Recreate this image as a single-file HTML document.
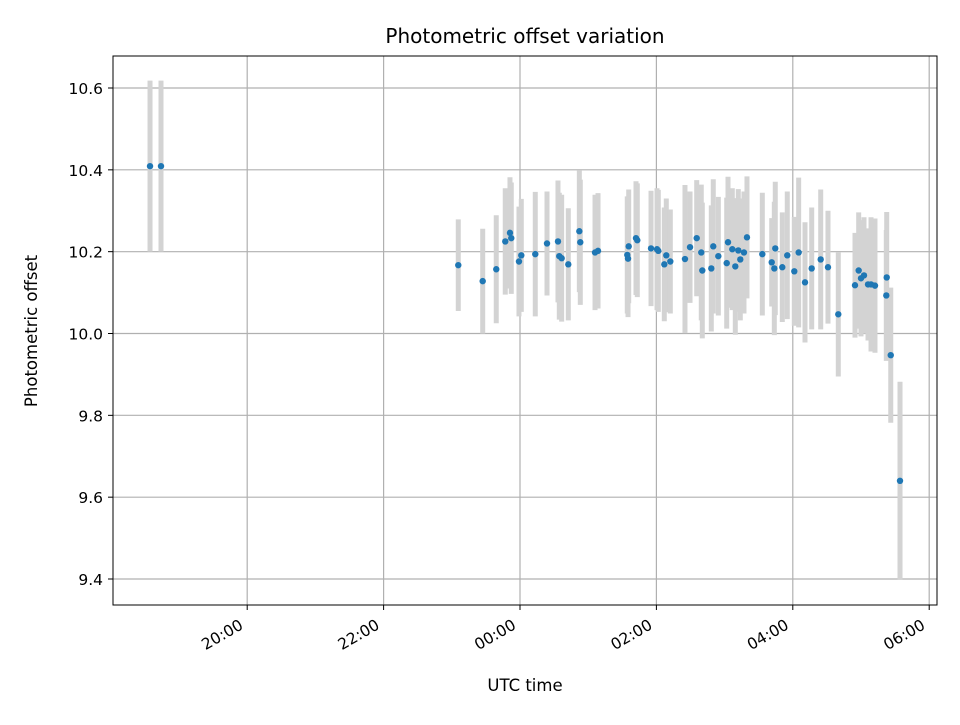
<!DOCTYPE html>
<html><head><meta charset="utf-8"><style>
body{margin:0;background:#fff;}
svg{font-family:"DejaVu Sans","Liberation Sans",sans-serif;}
</style></head><body>
<svg id="chart" width="960" height="720" viewBox="0 0 960 720" xmlns="http://www.w3.org/2000/svg">
<rect width="960" height="720" fill="#fff"/>
<g id="grid"></g>
<g id="bars"></g>
<g id="pts"></g>
<rect x="113" y="56" width="824" height="549" fill="none" stroke="#000" stroke-width="1"/>
<g id="axes"></g>
<text x="525" y="43" font-size="20" text-anchor="middle">Photometric offset variation</text>
<text x="525" y="691" font-size="16.5" text-anchor="middle">UTC time</text>
<text x="37" y="331" font-size="16.5" text-anchor="middle" transform="rotate(-90 37 331)">Photometric offset</text>
</svg>
<script>
// hours relative to 00:00 UTC
const times = [-5.425,-5.264,-0.905,-0.547,-0.348,-0.216,-0.147,-0.128,-0.015,0.019,0.224,0.396,0.557,0.576,0.611,0.708,0.870,0.884,1.100,1.144,1.573,1.594,1.584,1.701,1.720,1.921,2.009,2.028,2.145,2.116,2.204,2.419,2.493,2.591,2.658,2.673,2.805,2.834,2.908,3.031,3.050,3.113,3.157,3.201,3.230,3.284,3.328,3.553,3.691,3.743,3.729,3.846,3.919,4.022,4.086,4.179,4.277,4.409,4.516,4.667,4.912,4.966,5.000,5.044,5.103,5.147,5.205,5.377,5.371,5.436,5.572];
const offsets = [10.409,10.409,10.167,10.128,10.157,10.225,10.246,10.233,10.176,10.191,10.194,10.220,10.225,10.189,10.184,10.169,10.250,10.223,10.198,10.202,10.192,10.213,10.183,10.233,10.228,10.208,10.206,10.202,10.191,10.169,10.176,10.182,10.211,10.233,10.198,10.154,10.159,10.213,10.189,10.172,10.223,10.206,10.164,10.203,10.181,10.198,10.235,10.194,10.174,10.208,10.159,10.162,10.191,10.152,10.198,10.125,10.159,10.181,10.162,10.047,10.118,10.154,10.135,10.142,10.120,10.120,10.117,10.137,10.093,9.947,9.640];
const errors = [0.209,0.209,0.112,0.128,0.132,0.130,0.136,0.136,0.134,0.138,0.152,0.127,0.149,0.155,0.155,0.137,0.149,0.153,0.141,0.141,0.143,0.139,0.143,0.139,0.139,0.141,0.149,0.149,0.139,0.139,0.127,0.181,0.136,0.142,0.166,0.166,0.154,0.164,0.145,0.160,0.160,0.149,0.167,0.150,0.149,0.149,0.149,0.150,0.108,0.163,0.163,0.134,0.156,0.133,0.183,0.147,0.149,0.171,0.138,0.152,0.128,0.142,0.142,0.142,0.137,0.164,0.164,0.160,0.160,0.165,0.242];
const xTicks = [-4,-2,0,2,4,6];
const xTickLabels = ["20:00","22:00","00:00","02:00","04:00","06:00"];
const yTicks = [9.4,9.6,9.8,10.0,10.2,10.4,10.6];
const yTickLabels = ["9.4","9.6","9.8","10.0","10.2","10.4","10.6"];

const NS="http://www.w3.org/2000/svg";
const X = h => 520 + h*68.2;
const Y = v => 88 + (10.6 - v)*409.17;
function mk(tag, attrs, parent){const e=document.createElementNS(NS,tag);for(const k in attrs)e.setAttribute(k,attrs[k]);parent.appendChild(e);return e;}
const grid=document.getElementById('grid'), bars=document.getElementById('bars'), pts=document.getElementById('pts'), axes=document.getElementById('axes');
xTicks.forEach((t,i)=>{
  const x=X(t);
  const g=mk('line',{x1:x,x2:x,y1:56,y2:605,stroke:'#b0b0b0','stroke-width':1.2},grid);
  
  
  const tk=mk('line',{x1:x,x2:x,y1:605,y2:610,stroke:'#000'},axes);
  
  
  const ax=x-3, ay=628;
  const tx=mk('text',{x:ax,y:ay,'font-size':15.5,'text-anchor':'end',transform:`rotate(-30 ${ax} ${ay})`},axes);
  tx.textContent=xTickLabels[i];
  
  
});
yTicks.forEach((t,i)=>{
  const y=Y(t);
  const g=mk('line',{x1:113,x2:937,y1:y,y2:y,stroke:'#b0b0b0','stroke-width':1.2},grid);
  
  
  const tk=mk('line',{x1:108,x2:113,y1:y,y2:y,stroke:'#000'},axes);
  
  
  const tx=mk('text',{x:103,y:y+6,'font-size':15.5,'text-anchor':'end'},axes);
  tx.textContent=yTickLabels[i];
  
  
});
times.forEach((t,i)=>{
  const x=X(t);
  const b=mk('line',{x1:x,x2:x,y1:Y(offsets[i]+errors[i]),y2:Y(offsets[i]-errors[i]),stroke:'#d3d3d3','stroke-width':5},bars);
  
  
});
times.forEach((t,i)=>{
  const c=mk('circle',{cx:X(t),cy:Y(offsets[i]),r:3.2,fill:'#1f77b4'},pts);
  
  
});
</script>
</body></html>
